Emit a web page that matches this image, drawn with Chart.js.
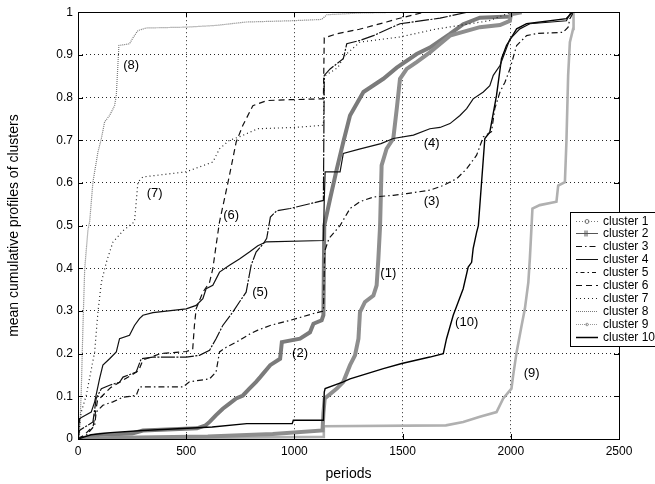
<!DOCTYPE html>
<html>
<head>
<meta charset="utf-8">
<script src="https://cdn.jsdelivr.net/npm/chart.js@4/dist/chart.umd.min.js"></script>
<style>
  html, body { margin: 0; padding: 0; background: #fff; }
  canvas { display: block; }
</style>
</head>
<body>
<canvas id="c" width="655" height="484"></canvas>
<script>
// Tick values and labels
const xTicks = [0, 500, 1000, 1500, 2000, 2500];
const yTickLabels = ['0', '0.1', '0.2', '0.3', '0.4', '0.5', '0.6', '0.7', '0.8', '0.9', '1'];

// Mean cumulative profile of each cluster: [period, value]
const cluster1 = [[0,0],[200,0.003],[600,0.006],[900,0.012],[1130,0.02],[1134,0.06],[1140,0.095],[1196,0.118],[1226,0.134],[1257,0.173],[1280,0.196],[1296,0.235],[1303,0.297],[1326,0.321],[1365,0.336],[1380,0.36],[1388,0.422],[1396,0.5],[1403,0.641],[1426,0.68],[1457,0.704],[1473,0.774],[1488,0.844],[1519,0.867],[1565,0.883],[1626,0.906],[1719,0.945],[1857,0.965],[1950,0.97],[1996,0.98],[2000,0.995],[2050,1]];
const cluster2 = [[0,0],[50,0.005],[100,0.01],[250,0.013],[300,0.02],[550,0.025],[590,0.032],[608,0.04],[638,0.056],[669,0.071],[700,0.083],[731,0.095],[762,0.102],[792,0.118],[823,0.134],[842,0.145],[888,0.173],[934,0.188],[942,0.227],[1026,0.235],[1072,0.25],[1088,0.27],[1126,0.278],[1134,0.29],[1138,0.5],[1165,0.563],[1196,0.633],[1226,0.696],[1257,0.758],[1319,0.813],[1411,0.844],[1473,0.87],[1565,0.902],[1626,0.917],[1719,0.949],[1780,0.972],[1857,0.987],[1996,0.99],[2010,1]];
const cluster3 = [[0,0],[40,0.01],[77,0.032],[84,0.063],[115,0.079],[161,0.087],[208,0.098],[269,0.102],[284,0.122],[485,0.122],[515,0.134],[608,0.141],[638,0.157],[654,0.204],[685,0.215],[746,0.231],[790,0.245],[831,0.255],[888,0.266],[980,0.278],[1088,0.294],[1134,0.3],[1140,0.44],[1160,0.47],[1211,0.5],[1257,0.54],[1303,0.556],[1365,0.567],[1457,0.571],[1519,0.575],[1626,0.583],[1688,0.594],[1750,0.61],[1796,0.633],[1842,0.665],[1873,0.708],[1911,0.72],[1926,0.774],[1950,0.813],[1973,0.836],[1996,0.867],[2027,0.922],[2073,0.945],[2119,0.95],[2242,0.953],[2265,0.965],[2273,0.985],[2290,1]];
const cluster4 = [[0,0],[5,0.04],[7,0.048],[61,0.063],[77,0.087],[100,0.142],[115,0.173],[146,0.188],[177,0.204],[192,0.235],[238,0.243],[261,0.266],[284,0.282],[300,0.29],[346,0.296],[500,0.305],[546,0.313],[577,0.329],[592,0.352],[623,0.36],[654,0.391],[700,0.407],[746,0.422],[792,0.438],[831,0.453],[870,0.462],[1134,0.465],[1138,0.56],[1142,0.626],[1211,0.626],[1226,0.669],[1300,0.679],[1400,0.692],[1457,0.704],[1550,0.712],[1626,0.727],[1673,0.73],[1719,0.739],[1765,0.758],[1796,0.774],[1826,0.797],[1873,0.813],[1903,0.828],[1919,0.852],[1950,0.875],[1973,0.906],[1996,0.937],[2042,0.961],[2088,0.973],[2257,0.98],[2273,0.996],[2290,1]];
const cluster5 = [[0,0],[7,0.02],[69,0.04],[84,0.095],[108,0.118],[146,0.126],[192,0.133],[208,0.145],[269,0.157],[292,0.188],[346,0.192],[500,0.192],[561,0.196],[608,0.208],[638,0.235],[669,0.266],[715,0.297],[746,0.321],[777,0.344],[800,0.407],[823,0.438],[860,0.46],[872,0.47],[889,0.52],[919,0.535],[980,0.54],[1134,0.559],[1138,0.852],[1165,0.867],[1226,0.891],[1242,0.926],[1303,0.934],[1365,0.945],[1488,0.973],[1673,0.986],[1800,1]];
const cluster6 = [[0,0],[30,0.01],[70,0.03],[90,0.09],[150,0.12],[280,0.16],[300,0.185],[380,0.2],[500,0.205],[530,0.21],[538,0.266],[546,0.305],[577,0.344],[608,0.367],[623,0.399],[638,0.453],[654,0.509],[677,0.563],[700,0.618],[731,0.696],[762,0.735],[808,0.781],[873,0.793],[980,0.795],[1134,0.797],[1138,0.94],[1200,0.95],[1300,0.96],[1426,0.977],[1473,0.984],[1600,1]];
const cluster7 = [[0,0],[15,0.063],[38,0.102],[77,0.204],[92,0.297],[108,0.367],[131,0.414],[161,0.461],[208,0.488],[261,0.509],[277,0.602],[300,0.614],[500,0.626],[623,0.649],[654,0.68],[700,0.7],[746,0.708],[831,0.727],[1000,0.73],[1134,0.735],[1138,0.85],[1200,0.87],[1234,0.899],[1303,0.93],[1488,0.942],[1650,0.96],[1900,0.98],[2000,1]];
const cluster8 = [[0,0],[7,0.01],[15,0.11],[23,0.266],[31,0.399],[46,0.49],[54,0.51],[69,0.602],[92,0.672],[108,0.704],[123,0.743],[146,0.758],[169,0.781],[177,0.805],[189,0.922],[238,0.926],[254,0.94],[277,0.957],[315,0.963],[500,0.965],[638,0.969],[777,0.977],[988,0.98],[1126,0.983],[1150,0.994],[1300,0.998],[1500,1]];
const cluster9 = [[0,0],[1134,0.005],[1136,0.03],[1700,0.032],[1780,0.04],[1857,0.052],[1934,0.063],[1965,0.095],[2003,0.118],[2011,0.149],[2027,0.204],[2050,0.266],[2065,0.305],[2081,0.367],[2088,0.422],[2096,0.5],[2100,0.54],[2134,0.548],[2211,0.556],[2219,0.594],[2250,0.602],[2257,0.696],[2265,0.852],[2273,0.93],[2288,0.961],[2290,1]];
const cluster10 = [[0,0],[30,0.005],[60,0.01],[150,0.015],[300,0.02],[620,0.028],[780,0.036],[990,0.036],[995,0.044],[1134,0.044],[1138,0.11],[1142,0.118],[1226,0.134],[1257,0.141],[1411,0.165],[1496,0.177],[1626,0.192],[1688,0.2],[1703,0.235],[1734,0.29],[1757,0.321],[1780,0.352],[1803,0.403],[1819,0.414],[1826,0.446],[1842,0.484],[1850,0.5],[1880,0.704],[1903,0.719],[1934,0.805],[1957,0.891],[1980,0.922],[2027,0.961],[2073,0.973],[2257,0.985],[2278,0.996],[2290,1]];

// Curve annotations: text, period, value
const curveLabels = [
  ['(1)', 1434, 0.387], ['(2)', 1026, 0.2], ['(3)', 1634, 0.556], ['(4)', 1634, 0.692],
  ['(5)', 842, 0.344], ['(6)', 708, 0.524], ['(7)', 354, 0.575], ['(8)', 246, 0.875],
  ['(9)', 2096, 0.153], ['(10)', 1796, 0.274]
];

const seriesNames = ['cluster 1','cluster 2','cluster 3','cluster 4','cluster 5','cluster 6','cluster 7','cluster 8','cluster 9','cluster 10'];
const seriesData = [cluster1, cluster2, cluster3, cluster4, cluster5, cluster6, cluster7, cluster8, cluster9, cluster10];

// Line styles: plot colour, width, dash, legend marker
const styles = [
  { color: '#8e8e8e', width: 4,   dash: [],          order: 2, lgColor: '#777', lgDash: [1,2], marker: 'circle' },
  { color: '#7b7b7b', width: 4,   dash: [],          order: 2, lgColor: '#555', lgDash: [],    marker: 'plus' },
  { color: '#111',    width: 1.2, dash: [6,3,1.5,3], order: 0 },
  { color: '#111',    width: 1.2, dash: [],          order: 0 },
  { color: '#111',    width: 1.2, dash: [14,1.5,2,1.5], order: 0, lgDash: [1.5,3,4,3] },
  { color: '#111',    width: 1.2, dash: [6,4],       order: 0 },
  { color: '#222',    width: 1.2, dash: [1,3],       order: 0 },
  { color: '#7a7a7a', width: 1.2, dash: [1,1],       order: 1 },
  { color: '#b0b0b0', width: 2.6, dash: [],          order: 2, lgColor: '#999', lgDash: [1,1], marker: 'dot' },
  { color: '#000',    width: 1.4, dash: [],          order: 0 }
];

Chart.defaults.font.family = "'Liberation Sans', Arial, Helvetica, sans-serif";
Chart.defaults.color = '#000';

const datasets = seriesData.map((pts, i) => ({
  label: seriesNames[i],
  data: pts.map(([x, y]) => ({ x, y })),
  borderColor: styles[i].color,
  borderWidth: styles[i].width,
  borderDash: styles[i].dash,
  order: styles[i].order,
  pointRadius: 0,
  fill: false,
  tension: 0
}));

// Frame with inward tick marks, drawn over the data
const framePlugin = {
  id: 'frame',
  afterDatasetsDraw(chart) {
    const { ctx, chartArea: a, scales } = chart;
    ctx.save();
    ctx.strokeStyle = '#000';
    ctx.lineWidth = 1;
    ctx.setLineDash([]);
    ctx.strokeRect(Math.round(a.left) + 0.5, Math.round(a.top) + 0.5, Math.round(a.right - a.left), Math.round(a.bottom - a.top));
    ctx.beginPath();
    xTicks.forEach(v => {
      const x = Math.round(scales.x.getPixelForValue(v)) + 0.5;
      ctx.moveTo(x, a.bottom); ctx.lineTo(x, a.bottom - 5);
      ctx.moveTo(x, a.top); ctx.lineTo(x, a.top + 5);
    });
    yTickLabels.map(Number).forEach(v => {
      const y = Math.round(scales.y.getPixelForValue(v)) + 0.5;
      ctx.moveTo(a.left, y); ctx.lineTo(a.left + 5, y);
      ctx.moveTo(a.right, y); ctx.lineTo(a.right - 5, y);
    });
    ctx.stroke();

    // curve annotations
    ctx.fillStyle = '#000';
    ctx.font = "13px 'Liberation Sans', Arial, sans-serif";
    ctx.textAlign = 'center';
    ctx.textBaseline = 'middle';
    curveLabels.forEach(([t, p, v]) => {
      ctx.fillText(t, scales.x.getPixelForValue(p), scales.y.getPixelForValue(v));
    });
    ctx.restore();
  }
};

// Boxed legend placed over the right edge of the plot
const legendPlugin = {
  id: 'boxLegend',
  afterDraw(chart) {
    const { ctx } = chart;
    const left = 570, top = 212, w = 100, h = 134;
    ctx.save();
    ctx.fillStyle = '#fff';
    ctx.fillRect(left, top, w, h);
    ctx.strokeStyle = '#000';
    ctx.lineWidth = 1;
    ctx.setLineDash([]);
    ctx.strokeRect(left + 0.5, top + 0.5, w, h);
    ctx.font = "12px 'Liberation Sans', Arial, sans-serif";
    ctx.textAlign = 'left';
    ctx.textBaseline = 'middle';
    seriesNames.forEach((name, i) => {
      const s = styles[i];
      const y = Math.round(top + 8.5 + i * 12.9) + 0.5;
      ctx.strokeStyle = s.lgColor || s.color;
      ctx.lineWidth = i === 9 ? 1.5 : 1;
      ctx.setLineDash(s.lgDash || s.dash);
      ctx.beginPath();
      ctx.moveTo(576, y); ctx.lineTo(598, y);
      ctx.stroke();
      ctx.setLineDash([]);
      if (s.marker === 'circle') {
        ctx.beginPath(); ctx.arc(587, y, 2, 0, Math.PI * 2); ctx.stroke();
      } else if (s.marker === 'plus') {
        ctx.beginPath(); ctx.moveTo(587, y - 3); ctx.lineTo(587, y + 3); ctx.moveTo(585, y - 3); ctx.lineTo(585, y + 3); ctx.stroke();
      } else if (s.marker === 'dot') {
        ctx.beginPath(); ctx.arc(587, y, 1.3, 0, Math.PI * 2); ctx.stroke();
      }
      ctx.fillStyle = '#000';
      ctx.fillText(name, 603, y);
    });
    ctx.restore();
  }
};

new Chart(document.getElementById('c'), {
  type: 'line',
  data: { datasets },
  options: {
    responsive: false,
    animation: false,
    devicePixelRatio: 1,
    layout: { padding: { top: 11, right: 36, left: 0, bottom: 0 } },
    plugins: { legend: { display: false }, tooltip: { enabled: false } },
    scales: {
      x: {
        type: 'linear', min: 0, max: 2500,
        afterBuildTicks: s => { s.ticks = xTicks.map(v => ({ value: v })); },
        afterFit: s => { s.height = 45; },
        ticks: { font: { size: 12 }, padding: 5, maxRotation: 0, callback: v => String(v) },
        grid: { color: 'rgba(0,0,0,0.85)', lineWidth: 1, drawTicks: false },
        border: { display: false, dash: [1, 3] },
        title: { display: true, text: 'periods', font: { size: 14 }, padding: { top: 0, bottom: 1 } }
      },
      y: {
        type: 'linear', min: 0, max: 1,
        afterBuildTicks: s => { s.ticks = yTickLabels.map(t => ({ value: Number(t) })); },
        afterFit: s => { s.width = 78; },
        ticks: { font: { size: 12 }, padding: 5, callback: (v, i) => yTickLabels[i] },
        grid: { color: 'rgba(0,0,0,0.85)', lineWidth: 1, drawTicks: false },
        border: { display: false, dash: [1, 3] },
        title: { display: true, text: 'mean cumulative profiles of clusters', font: { size: 14 }, padding: { top: 6, bottom: 0 } }
      }
    }
  },
  plugins: [framePlugin, legendPlugin]
});
</script>
</body>
</html>
